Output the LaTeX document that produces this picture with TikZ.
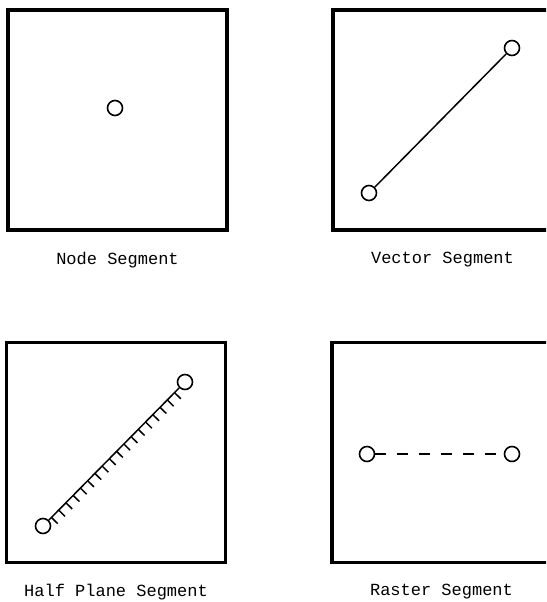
\documentclass[tikz,border=0pt]{standalone}
\usepackage{fontspec}
\setmonofont{Liberation Mono}
\usetikzlibrary{positioning,calc}

\begin{document}
\begin{tikzpicture}[x=1pt, y=-1pt, node distance=20pt,
  panel/.style={draw, line width=3.2pt, minimum width=219pt, minimum height=220pt, inner sep=0pt},
  endpt/.style={draw, circle, line width=1.6pt, minimum size=15pt, inner sep=0pt, fill=white},
  caption/.style={font=\fontsize{17}{20}\selectfont\ttfamily, inner sep=0pt},
  seg/.style={line width=1.5pt}]
\useasboundingbox (0,0) rectangle (546,602);
\clip (0,0) rectangle (546,602);
% node segment
\node[panel] (nodebox) at (117.5,120) {};
\node[caption, below=of nodebox] (nodecap) {Node Segment};
\node[endpt] (n1) at (115,108) {};
% vector segment
\node[panel] (vecbox) at (442.5,120) {};
\node[caption, below=of vecbox] (veccap) {Vector Segment};
\node[endpt] (v1) at (369,193) {};
\node[endpt] (v2) at (512,48) {};
\draw[seg] (v1) -- (v2);
% half plane segment
\node[panel] (halfbox) at (116,452.5) {};
\node[caption, below=of halfbox] (halfcap) {Half Plane Segment};
\node[endpt] (h1) at (43,526) {};
\node[endpt] (h2) at (185,382) {};
\draw[seg] (h1) -- (h2);
\foreach \t in {0,...,17}
  \draw[seg] ($(h1.center)!{(12+10.3*\t)/202}!(h2.center)$) -- ++(6.3,6.2);
% raster segment
\node[panel] (rastbox) at (441.5,452.5) {};
\node[caption, below=of rastbox] (rastcap) {Raster Segment};
\node[endpt] (r1) at (367,454) {};
\node[endpt] (r2) at (512,454) {};
\draw[seg, dash pattern=on 11pt off 11pt] (r1) -- (r2);
\end{tikzpicture}
\end{document}
